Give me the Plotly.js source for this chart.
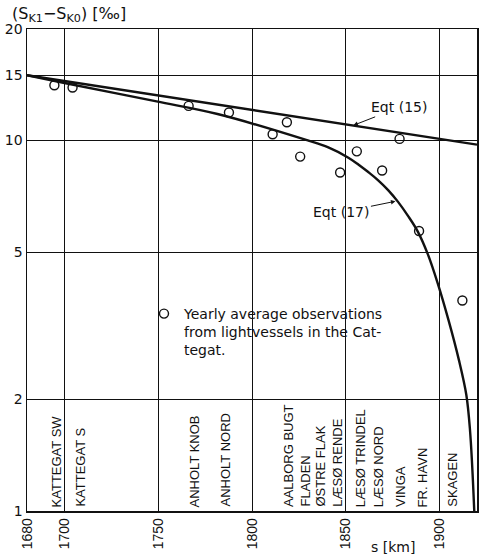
<!DOCTYPE html>
<html>
<head>
<meta charset="utf-8">
<script src="https://cdn.plot.ly/plotly-3.0.1.min.js"></script>
<style>
html,body{margin:0;padding:0;background:#fff;}
#chart{width:483px;height:558px;}
</style>
</head>
<body>
<div id="chart"></div>
<script>
// Observations (lightvessels)
const obsKm  = [1694.6, 1704.3, 1766.2, 1787.7, 1811.0, 1818.6, 1825.7, 1847.0, 1855.9, 1869.4, 1878.7, 1889.1, 1912.2];
const obsVal = [14.1, 13.9, 12.4, 11.9, 10.4, 11.2, 9.05, 8.2, 9.35, 8.3, 10.1, 5.7, 3.7];

// Eqt (15)
const eq15Km  = [1680, 1920];
const eq15Val = [15, 9.75];

// Eqt (17)
const eq17Km  = [1680, 1700, 1749.1, 1781.6, 1829.3, 1840.7, 1851.4, 1856.7, 1862.0, 1867.3, 1872.6, 1877.9, 1883.2, 1888.5, 1893.8, 1899.1, 1904.7, 1910.4, 1914.3, 1916.2, 1918.5, 1918.8];
const eq17Val = [15, 14.3, 12.75, 11.79, 10.02, 9.58, 8.99, 8.62, 8.22, 7.81, 7.35, 6.83, 6.26, 5.67, 4.93, 4.11, 3.29, 2.55, 2.06, 1.67, 1.01, 0.9];

// Station labels
const stations  = ['KATTEGAT SW','KATTEGAT S','ANHOLT KNOB','ANHOLT NORD','AALBORG BUGT','FLADEN','ØSTRE FLAK','LÆSØ RENDE','LÆSØ TRINDEL','LÆSØ NORD','VINGA','FR. HAVN','SKAGEN'];
const stationKm = [1695.7, 1708.3, 1769.3, 1785.6, 1819.5, 1828.3, 1836.3, 1845.2, 1857.7, 1867.6, 1879.2, 1890.9, 1906.5];

// Ticks
const xTicks = [1680, 1700, 1750, 1800, 1850, 1900, 1920];
const yTicks = [1, 2, 5, 10, 15, 20];

const ink = '#111';

const traces = [
  {x: eq15Km, y: eq15Val, mode: 'lines', line: {color: ink, width: 2.4}, showlegend: false, hoverinfo: 'skip'},
  {x: eq17Km, y: eq17Val, mode: 'lines', line: {color: ink, width: 2.4, shape: 'spline', smoothing: 1}, showlegend: false, hoverinfo: 'skip'},
  {x: obsKm, y: obsVal, mode: 'markers', name: 'Yearly average observations<br>from lightvessels in the Cat-<br>tegat.',
   marker: {symbol: 'circle-open', size: 9, color: ink, line: {width: 1.4, color: ink}}}
];

const annotations = stations.map((s, i) => ({
  x: stationKm[i], y: 0, xref: 'x', yref: 'y', text: s, showarrow: false,
  textangle: -90, xanchor: 'center', yanchor: 'bottom', yshift: 2,
  font: {family: 'Liberation Sans, Arial, sans-serif', size: 13, color: ink}
}));

annotations.push(
  {x: 1854.1, y: 1.041, xref: 'x', yref: 'y', text: 'Eqt (15)', showarrow: true,
   ax: 46, ay: -18, arrowhead: 2, arrowsize: 0.9, arrowwidth: 1, arrowcolor: ink,
   font: {family: 'DejaVu Sans, sans-serif', size: 14, color: ink}},
  {x: 1876.5, y: 0.836, xref: 'x', yref: 'y', text: 'Eqt (17)', showarrow: true,
   ax: -54, ay: 11, arrowhead: 2, arrowsize: 0.9, arrowwidth: 1, arrowcolor: ink,
   font: {family: 'DejaVu Sans, sans-serif', size: 14, color: ink}},
  {x: -0.038, y: 1.03, xref: 'paper', yref: 'paper', xanchor: 'left', yanchor: 'middle', showarrow: false,
   text: '(S<sub>K1</sub>−S<sub>K0</sub>) [‰]',
   font: {family: 'DejaVu Sans, sans-serif', size: 16, color: ink}},
  {x: 0.813, y: -0.074, xref: 'paper', yref: 'paper', xanchor: 'center', yanchor: 'middle', showarrow: false,
   text: 's [km]', font: {family: 'DejaVu Sans, sans-serif', size: 14, color: ink}}
);

const layout = {
  width: 483, height: 558,
  margin: {l: 27, r: 6, t: 29, b: 47, pad: 0},
  paper_bgcolor: '#fff', plot_bgcolor: '#fff',
  showlegend: true,
  legend: {x: (144 - 27) / 450, y: (511 - 298) / 482, xanchor: 'left', yanchor: 'top',
           bgcolor: 'rgba(0,0,0,0)', borderwidth: 0, valign: 'top',
           font: {family: 'DejaVu Sans, sans-serif', size: 14, color: ink}},
  xaxis: {type: 'linear', range: [1680, 1920], tickvals: xTicks, ticktext: xTicks.map(String),
          tickangle: -90, ticks: '', showgrid: true, gridcolor: ink, gridwidth: 1,
          showline: true, linecolor: ink, linewidth: 1.5, mirror: true, zeroline: false,
          tickfont: {family: 'Liberation Sans, Arial, sans-serif', size: 14, color: ink}},
  yaxis: {type: 'log', range: [0, Math.log10(20)], tickvals: yTicks, ticktext: yTicks.map(String),
          ticks: '', showgrid: true, gridcolor: ink, gridwidth: 1,
          showline: true, linecolor: ink, linewidth: 1.5, mirror: true, zeroline: false,
          tickfont: {family: 'DejaVu Sans, sans-serif', size: 14, color: ink}},
  shapes: [
    {type: 'rect', xref: 'paper', yref: 'paper', layer: 'between',
     x0: (176 - 27) / 450, x1: (420 - 27) / 450, y0: (511 - 373) / 482, y1: (511 - 292) / 482,
     fillcolor: '#fff', line: {width: 0}}
  ],
  annotations: annotations
};

Plotly.newPlot('chart', traces, layout, {displayModeBar: false, staticPlot: true});
</script>
</body>
</html>
